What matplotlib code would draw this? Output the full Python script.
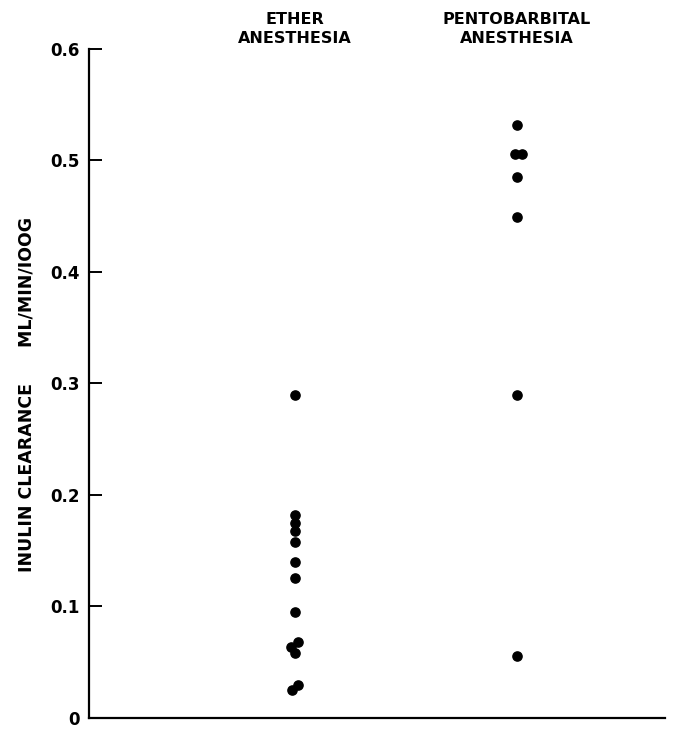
import numpy as np
import matplotlib.pyplot as plt

# inulin clearance, ml/min/100g
ether_vals = [0.290, 0.182, 0.175, 0.168, 0.158, 0.140, 0.126, 0.095,
              0.068, 0.064, 0.058, 0.030, 0.025]
ether_jitter = [0, 0, 0, 0, 0, 0, 0, 0, 0.013, -0.018, 0, 0.012, -0.012]
pento_vals = [0.532, 0.506, 0.506, 0.485, 0.449, 0.290, 0.056]
pento_jitter = [0, -0.008, 0.022, 0, 0, 0, 0]
groups = ['ETHER\nANESTHESIA', 'PENTOBARBITAL\nANESTHESIA']
yticks = [0, 0.1, 0.2, 0.3, 0.4, 0.5, 0.6]
ytick_labels = ['0', '0.1', '0.2', '0.3', '0.4', '0.5', '0.6']

plt.rcParams['font.family'] = 'DejaVu Sans'

fig = plt.figure(figsize=(6.78, 7.29), dpi=100)
ax = fig.add_axes([0.1313, 0.0151, 0.8495, 0.9177])

ax.scatter(1 + np.array(ether_jitter), ether_vals, s=44, color='black', zorder=3)
ax.scatter(2 + np.array(pento_jitter), pento_vals, s=44, color='black', zorder=3)

ax.set_xlim(0.072, 2.667)
ax.set_ylim(0, 0.6)
ax.set_yticks(yticks)
ax.set_yticklabels(ytick_labels, fontsize=12, fontweight='bold')
ax.set_xticks([])
ax.tick_params(axis='y', direction='in', length=9, width=1.4, pad=7)

for s in ['top', 'right']:
    ax.spines[s].set_visible(False)
for s in ['left', 'bottom']:
    ax.spines[s].set_linewidth(1.6)

for i, g in enumerate(groups):
    ax.annotate(g, xy=(i + 1, 0.6), xytext=(0, 2), textcoords='offset points',
                ha='center', va='bottom', fontsize=11.5, fontweight='bold',
                linespacing=1.35, annotation_clip=False)

ax.set_ylabel('INULIN CLEARANCE      ML/MIN/IOOG', fontsize=12.5,
              fontweight='bold')
ax.yaxis.set_label_coords(-0.093, 0.483)

fig.savefig('out.png', dpi=100)
